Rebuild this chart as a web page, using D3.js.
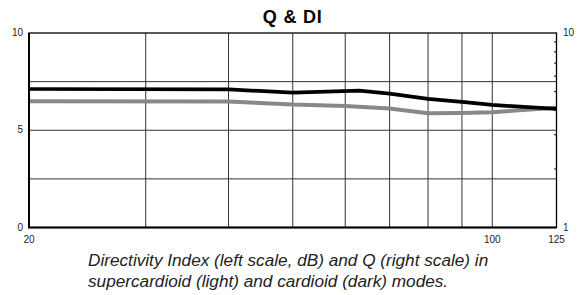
<!DOCTYPE html>
<html>
<head>
<meta charset="utf-8">
<script src="https://cdn.jsdelivr.net/npm/d3@7"></script>
<style>
  body { margin: 0; background: #fff; }
  text { font-family: "Liberation Sans", Arial, sans-serif; }
</style>
</head>
<body>
<div id="chart"></div>
<script>
// Q & DI chart data
const freqs = [20, 40, 50, 63, 70, 80, 90, 100, 125];
const diCardioid = [7.12, 7.10, 6.93, 7.04, 6.88, 6.61, 6.46, 6.30, 6.10];      // dark
const freqsSuper = [20, 40, 50, 60, 70, 80, 90, 100, 125];
const diSupercardioid = [6.49, 6.48, 6.32, 6.25, 6.12, 5.88, 5.89, 5.93, 6.16]; // light

const gridFreqs = [30, 40, 50, 60, 70, 80, 90, 100];
const xTickLabels = [20, 100, 125];
const diGrid = [2.5, 5, 7.5];
const diLabels = [0, 5, 10];
const qTicks = [2, 3, 4, 5, 6, 7, 8, 9];
const qLabels = [1, 10];

const W = 585, H = 295;
const mLeft = 29, mRight = 556.5, mTop = 33, mBottom = 227.5;

const svg = d3.select("#chart").append("svg")
    .attr("width", W).attr("height", H);

const x = d3.scaleLog().domain([20, 125]).range([mLeft, mRight]);
const y = d3.scaleLinear().domain([0, 10]).range([mBottom, mTop]);
const yq = d3.scaleLog().domain([1, 10]).range([mBottom, mTop]);

// title
svg.append("text")
    .attr("x", (mLeft + mRight) / 2)
    .attr("y", 22.5)
    .attr("text-anchor", "middle")
    .style("font-size", "18px")
    .style("font-weight", "bold")
    .style("letter-spacing", "0.8px")
    .text("Q & DI");

// grid
svg.selectAll("vgrid")
    .data(gridFreqs)
    .join("line")
    .attr("x1", d => x(d)).attr("x2", d => x(d))
    .attr("y1", mTop).attr("y2", mBottom)
    .attr("stroke", "#333")
    .attr("stroke-width", 1);

svg.selectAll("hgrid")
    .data(diGrid)
    .join("line")
    .attr("x1", mLeft).attr("x2", mRight)
    .attr("y1", d => y(d)).attr("y2", d => y(d))
    .attr("stroke", "#333")
    .attr("stroke-width", 1);

// right Q axis ticks
svg.selectAll("qtick")
    .data(qTicks)
    .join("line")
    .attr("x1", mRight - 2.5).attr("x2", mRight)
    .attr("y1", d => yq(d)).attr("y2", d => yq(d))
    .attr("stroke", "#333")
    .attr("stroke-width", 1.2);

// series
const line = d3.line()
    .x(d => x(d[0]))
    .y(d => y(d[1]));

svg.append("path")
    .datum(freqsSuper.map((f, i) => [f, diSupercardioid[i]]))
    .attr("d", line)
    .attr("fill", "none")
    .attr("stroke", "#888")
    .attr("stroke-width", 4);

svg.append("path")
    .datum(freqs.map((f, i) => [f, diCardioid[i]]))
    .attr("d", line)
    .attr("fill", "none")
    .attr("stroke", "#000")
    .attr("stroke-width", 3.7);

// frame
svg.append("rect")
    .attr("x", mLeft).attr("y", mTop)
    .attr("width", mRight - mLeft).attr("height", mBottom - mTop)
    .attr("fill", "none")
    .attr("stroke", "#000")
    .attr("stroke-width", 1.3);
svg.append("path")
    .attr("d", `M${mLeft},${mTop}V${mBottom}H${mRight}`)
    .attr("fill", "none")
    .attr("stroke", "#000")
    .attr("stroke-width", 2);

// labels
svg.selectAll("dilab")
    .data(diLabels)
    .join("text")
    .attr("x", 23)
    .attr("y", d => y(d) + 3)
    .attr("text-anchor", "end")
    .style("font-size", "10px")
    .attr("fill", "#222")
    .text(d => d);

svg.selectAll("qlab")
    .data(qLabels)
    .join("text")
    .attr("x", 563)
    .attr("y", d => yq(d) + 3)
    .attr("text-anchor", "start")
    .style("font-size", "10px")
    .attr("fill", "#222")
    .text(d => d);

svg.selectAll("xlab")
    .data(xTickLabels)
    .join("text")
    .attr("x", d => x(d))
    .attr("y", 243)
    .attr("text-anchor", "middle")
    .style("font-size", "10px")
    .attr("fill", "#222")
    .text(d => d);

// caption
const caption = ["Directivity Index (left scale, dB) and Q (right scale) in",
                 "supercardioid (light) and cardioid (dark) modes."];
svg.selectAll("cap")
    .data(caption)
    .join("text")
    .attr("x", 88)
    .attr("y", (d, i) => 266 + i * 21)
    .style("font-size", "17.2px")
    .style("font-style", "italic")
    .attr("fill", "#222")
    .text(d => d);
</script>
</body>
</html>
